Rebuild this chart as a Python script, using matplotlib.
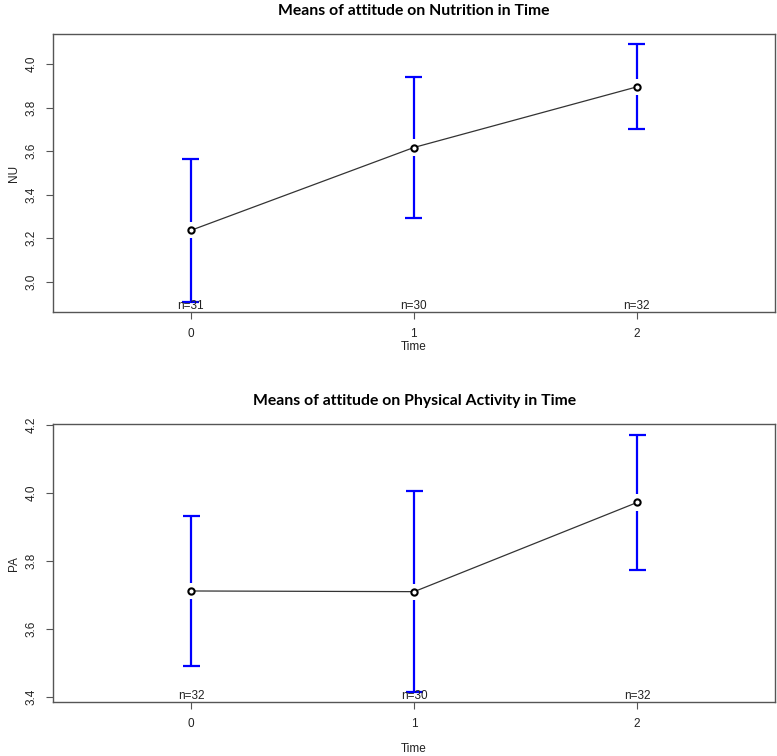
import matplotlib.pyplot as plt
import numpy as np

plt.rcParams['font.family'] = ['Liberation Sans', 'DejaVu Sans']

time_points = [0, 1, 2]

# Nutrition
nu_means = [3.237, 3.617, 3.895]
nu_err = [0.328, 0.323, 0.195]
nu_n = [31, 30, 32]

# Physical activity
pa_means = [3.712, 3.710, 3.972]
pa_err = [0.221, 0.296, 0.199]
pa_n = [32, 30, 32]

titles = ['Means of attitude on Nutrition in Time',
          'Means of attitude on Physical Activity in Time']
ylabels = ['NU', 'PA']
yticks_list = [[3.0, 3.2, 3.4, 3.6, 3.8, 4.0], [3.4, 3.6, 3.8, 4.0, 4.2]]
ylims = [(2.861, 4.138), (3.385, 4.202)]

fig = plt.figure(figsize=(7.77, 7.56), dpi=100)
ax1 = fig.add_axes([0.068, 0.587, 0.929, 0.368])
ax2 = fig.add_axes([0.068, 0.071, 0.930, 0.368])

spine_col = '#555555'
xlabel_pads = [1, 10]
title_pads = [14, 14]

for ax, means, err, ns, ttl, ylab, yt, yl, xpad, tpad in zip(
        [ax1, ax2], [nu_means, pa_means], [nu_err, pa_err], [nu_n, pa_n],
        titles, ylabels, yticks_list, ylims, xlabel_pads, title_pads):
    x = np.array(time_points)
    m = np.array(means)
    e = np.array(err)
    ax.set_xlim(-0.62, 2.62)
    ax.set_ylim(*yl)
    gap = 0.029 * (yl[1] - yl[0])

    # error bars broken around the mean point (like R plotmeans)
    ax.vlines(x, m + gap, m + e, color='blue', lw=1.6, zorder=2)
    ax.vlines(x, m - e, m - gap, color='blue', lw=1.6, zorder=2)
    ax.hlines(m + e, x - 0.038, x + 0.038, color='blue', lw=1.6, zorder=2)
    ax.hlines(m - e, x - 0.038, x + 0.038, color='blue', lw=1.6, zorder=2)

    ax.plot(x, m, color='#333333', lw=0.9, zorder=3)
    ax.plot(x, m, 'o', mfc='white', mec='black', mew=1.5, ms=4.5, zorder=4)

    for xi, n in zip(x, ns):
        ax.annotate('n=%d' % n, (xi, yl[0]), xytext=(0, 0.5), textcoords='offset points',
                    ha='center', va='bottom', fontsize=8.5, color='#222222', zorder=5)

    ax.set_xticks(x)
    ax.set_xticklabels([str(t) for t in time_points])
    ax.set_yticks(yt)
    ax.set_yticklabels(['%.1f' % v for v in yt], rotation=90, va='center')
    ax.tick_params(labelsize=8.5, length=5, color=spine_col, labelcolor='#222222', pad=6)
    for s in ax.spines.values():
        s.set_color(spine_col)
        s.set_linewidth(1.0)
    ax.set_xlabel('Time', fontsize=8.5, color='#222222', labelpad=xpad)
    ax.set_ylabel(ylab, fontsize=8.5, color='#222222', labelpad=4)
    ax.set_title(ttl, fontsize=11.3, fontweight='bold', family=['Lato', 'DejaVu Sans'], pad=tpad)

fig.savefig('out.png', dpi=100)
